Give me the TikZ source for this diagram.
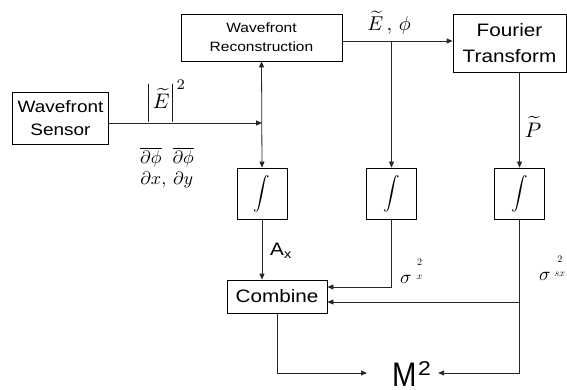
\documentclass[tikz,border=0pt]{standalone}
\usepackage{graphicx}
\usepackage{fontspec}
\setmainfont{Liberation Sans}[FakeStretch=1.15]
\usetikzlibrary{arrows.meta}
\begin{document}
\begin{tikzpicture}[x=1pt,y=-1pt,
  box/.style={draw, line width=0.8pt, inner sep=0pt, align=center},
  conn/.style={line width=0.8pt, draw=black!85},
  arr/.style={conn, -{Triangle[length=6pt,width=5pt]}},
  darr/.style={conn, {Triangle[length=6pt,width=5pt]}-{Triangle[length=6pt,width=5pt]}},
  lbl/.style={inner sep=0pt},
  intbox/.style={box, minimum width=50pt, minimum height=51pt}]
\useasboundingbox (0,0) rectangle (567,390);

% boxes
\node[box, minimum width=161pt, minimum height=47pt, font=\fontsize{13.5}{19}\selectfont] (recon) at (261.5,37.5) {Wavefront\\Reconstruction};
\node[box, minimum width=113pt, minimum height=58pt, font=\fontsize{18}{26}\selectfont] (ft) at (509.5,43) {Fourier\\Transform};
\node[box, minimum width=96pt, minimum height=52pt, font=\fontsize{16.5}{23}\selectfont] (sensor) at (60.5,118.5) {Wavefront\\Sensor};
\node[intbox] (int1) at (262,193.5) {\scalebox{1.65}{$\displaystyle\int$}};
\node[intbox] (int2) at (391.5,193.5) {\scalebox{1.65}{$\displaystyle\int$}};
\node[intbox] (int3) at (519.5,193.5) {\scalebox{1.65}{$\displaystyle\int$}};
\node[box, minimum width=100pt, minimum height=33pt, font=\fontsize{18}{20}\selectfont] (comb) at (277,296.5) {Combine};
\node[lbl, inner xsep=7pt, anchor=base west] (m2) at (385,386) {\fontsize{34}{36}\selectfont\scalebox{0.75}[1]{M}\hspace{1.5pt}\raisebox{10.3pt}{\fontsize{20}{22}\selectfont 2}};

% labels
\node[lbl] (e2) at (166,101) {\scalebox{2.1}{$\left|\widetilde{E}\right|^2$}};
\node[lbl] (dphi) at (167,169) {\scalebox{1.8}{$\begin{array}[b]{@{}c@{}}\overline{\partial\phi}\\ \partial x\end{array},\,\begin{array}[b]{@{}c@{}}\overline{\partial\phi}\\ \partial y\end{array}$}};
\node[lbl] (ephi) at (389,23) {\scalebox{2}{$\widetilde{E}\,,\,\phi$}};
\node[lbl] (pt) at (533,127) {\scalebox{2.1}{$\widetilde{P}$}};
\node[lbl, font=\fontsize{18}{20}\selectfont] (ax) at (281,251) {A\textsubscript{x}};
\node[lbl, anchor=base west] (sx) at (400,283) {\scalebox{1.9}{$\sigma$}\hspace{5pt}\raisebox{11pt}{\fontsize{10}{14.5}\selectfont\begin{tabular}{@{}c@{}}$2$\\$x$\end{tabular}}};
\node[lbl, anchor=base west] (ssx) at (539,280) {\scalebox{1.9}{$\sigma$}\hspace{4pt}\raisebox{10.5pt}{\fontsize{10}{14}\selectfont\begin{tabular}{@{}c@{}}$2$\\$sx$\end{tabular}}};

% connectors
\coordinate (j) at (262,123);
\draw[arr] ([yshift=-4.5pt]sensor.east) -- (j);
\draw[darr] (recon.south) -- (int1.north);
\coordinate (rb) at ([yshift=-3.5pt]recon.east);
\draw[arr] (rb) -- (rb -| ft.west);
\draw[arr] (rb -| int2.north) -- (int2.north);
\draw[arr] (int3.north |- ft.south) -- (int3.north);
\draw[arr] (int1.south) -- (int1.south |- comb.north);
\draw[arr] (int2.south) |- ([yshift=9.5pt]comb.east);
\coordinate (c3) at ([yshift=-5.5pt]comb.east);
\draw[arr] (int3.south |- c3) -- (c3);
\coordinate (mr) at (m2.east |- 0,373);
\coordinate (ml) at ([xshift=-18pt]m2.west |- 0,373);
\draw[arr] (int3.south) |- (mr);
\draw[arr] (comb.south) |- (ml);
\end{tikzpicture}
\end{document}
